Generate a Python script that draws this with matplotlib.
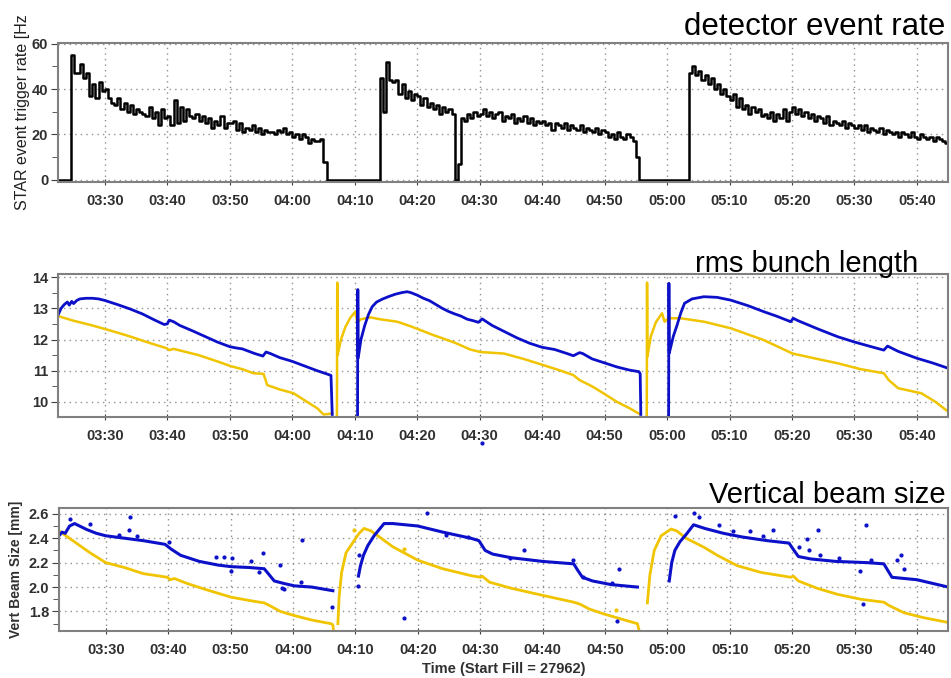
import numpy as np
import matplotlib
matplotlib.use('Agg')
import matplotlib.pyplot as plt

plt.rcParams['font.family'] = ['Liberation Sans', 'DejaVu Sans']

# time axis: minutes after 03:00
tick_pos = [30, 40, 50, 60, 70, 80, 90, 100, 110, 120, 130, 140, 150, 160]
tick_labels = ['03:30', '03:40', '03:50', '04:00', '04:10', '04:20', '04:30',
               '04:40', '04:50', '05:00', '05:10', '05:20', '05:30', '05:40']
t_start = 22.5
t_end = 165

# STAR trigger rate, sampled every 0.5 min from 03:20
rate_t0 = 20
rate_dt = 0.5
rate = [
    0, 0, 0, 0, 0, 0, 0, 0, 0, 55, 47, 47, 51, 45, 47, 37, 42, 36, 43, 39,
    40, 36, 34, 33, 36, 31, 34, 30, 33, 29, 31, 30, 29, 28, 32, 27, 30, 24, 31, 27,
    28, 24, 35, 25, 32, 26, 31, 28, 27, 29, 26, 28, 25, 27, 23, 26, 24, 28, 23, 25,
    25, 26, 22, 25, 21, 23, 22, 24, 21, 23, 20, 22, 21, 21, 20, 22, 21, 23, 20, 21,
    19, 20, 18, 20, 19, 16, 18, 17, 17, 18, 8, 0, 0, 0, 0, 0, 0, 0, 0, 0,
    0, 0, 0, 0, 0, 0, 0, 0, 45, 30, 52, 44, 43, 44, 38, 42, 36, 39, 35, 38,
    37, 33, 36, 32, 34, 31, 33, 29, 32, 30, 31, 29, 0, 7, 27, 26, 29, 27, 30, 28,
    29, 31, 28, 30, 27, 29, 30, 26, 28, 27, 29, 25, 27, 26, 28, 25, 27, 24, 26, 25,
    26, 24, 25, 22, 25, 24, 23, 25, 22, 24, 23, 22, 24, 21, 23, 22, 21, 23, 20, 22,
    21, 19, 20, 18, 21, 19, 18, 20, 19, 17, 10, 0, 0, 0, 0, 0, 0, 0, 0, 0,
    0, 0, 0, 0, 0, 0, 0, 47, 50, 46, 48, 44, 46, 42, 45, 40, 42, 38, 40, 37,
    35, 38, 32, 36, 31, 33, 29, 32, 30, 31, 28, 29, 27, 30, 26, 29, 27, 31, 26, 30,
    32, 29, 31, 28, 30, 27, 29, 26, 28, 27, 25, 28, 24, 26, 25, 24, 26, 23, 25, 24,
    23, 24, 22, 24, 21, 23, 22, 21, 23, 20, 22, 21, 20, 21, 19, 21, 20, 19, 21, 19,
    18, 20, 19, 18, 19, 17, 19, 18, 17, 16, 8,
]

# rms bunch length (ns) - blue ring
bl_blue_t = [22.5, 23, 23.5, 24, 24.3, 24.7, 25, 25.5, 26, 27, 28, 29, 30, 32, 34, 36, 38, 39.5,
             40, 40.3, 41, 42, 44, 46, 48, 50, 51, 52, 54, 55.3, 55.8, 56.5, 58, 60, 62, 64,
             65.5, 66.2, 66.4, None,
             70.45, 70.5, 70.55, 71, 71.6, 72.2, 72.8, 73.5, 74.5, 75.5, 76.5, 77.5, 78.4, 79,
             80, 81, 82, 83, 84, 85, 86, 87, 88, 89, 89.8, 90.4, 91, 92, 94, 96, 98, 100, 102,
             104, 105, 106, 106.5, 108, 110, 112, 114, 115.5, 115.7, 115.8, None,
             120.25, 120.3, 120.35, 121, 121.6, 122.2, 122.8, 124, 125.9, 128, 130.2, 133,
             135.5, 137.5, 139.8, 140.2, 141, 144, 147.3, 150, 152.5, 154.7, 155.3, 157, 160,
             162.5, 165]
bl_blue = [12.78, 13.0, 13.12, 13.2, 13.1, 13.22, 13.15, 13.25, 13.3, 13.32, 13.32, 13.3, 13.25,
           13.12, 12.98, 12.82, 12.62, 12.48, 12.5, 12.62, 12.57, 12.45, 12.28, 12.1, 11.92,
           11.77, 11.73, 11.7, 11.55, 11.47, 11.6, 11.55, 11.42, 11.3, 11.15, 11.0, 10.9,
           10.85, 9.6, None,
           9.4, 13.6, 11.4, 12.0, 12.45, 12.8, 13.05, 13.2, 13.3, 13.38, 13.45, 13.5, 13.53,
           13.5, 13.42, 13.32, 13.24, 13.12, 13.0, 12.9, 12.82, 12.75, 12.65, 12.6, 12.55,
           12.66, 12.58, 12.45, 12.25, 12.05, 11.88, 11.75, 11.68, 11.55, 11.48, 11.58, 11.55,
           11.38, 11.25, 11.12, 11.02, 10.97, 10.9, 9.6, None,
           9.4, 13.8, 11.56, 12.1, 12.46, 12.85, 13.16, 13.3, 13.37, 13.35, 13.26, 13.08,
           12.89, 12.75, 12.57, 12.68, 12.6, 12.35, 12.09, 11.92, 11.78, 11.66, 11.79, 11.62,
           11.4, 11.25, 11.08]

# rms bunch length (ns) - yellow ring
bl_yel_t = [22.5, 25, 28, 31, 34, 37, 39.9, 40.3, 41, 45, 48, 50.1, 52, 53.8, 55.4, 56, 58,
            60.2, 62, 64, 65, 66, 66.4, None,
            67.15, 67.2, 67.25, 67.8, 68.5, 69.3, 70.1, 70.4, 71, 72.5, 74, 76.8, 79, 82.6,
            86, 88.5, 90.1, 93.9, 97, 100.2, 103, 105, 106, 108, 109.8, 112, 114, 115.2,
            115.6, None,
            116.75, 116.8, 116.85, 117.4, 118.2, 119.2, 119.6, 120.2, 122.2, 125.9, 130.2,
            135.5, 140.1, 144, 147.3, 151, 154.7, 155.5, 157, 160.7, 163, 165]
bl_yel = [12.75, 12.6, 12.45, 12.28, 12.1, 11.9, 11.72, 11.66, 11.7, 11.5, 11.3, 11.15, 11.05,
          10.92, 10.9, 10.54, 10.4, 10.28, 10.05, 9.8, 9.6, 9.62, 9.65, None,
          9.4, 13.82, 11.5, 12.0, 12.4, 12.7, 12.89, 12.55, 12.65, 12.71, 12.65, 12.57,
          12.42, 12.14, 11.9, 11.68, 11.6, 11.55, 11.38, 11.18, 11.0, 10.86, 10.7, 10.5,
          10.28, 10.0, 9.8, 9.66, 9.62, None,
          9.4, 13.82, 11.45, 12.1, 12.55, 12.84, 12.57, 12.68, 12.68, 12.57, 12.36, 11.98,
          11.55, 11.38, 11.24, 11.05, 10.92, 10.7, 10.44, 10.28, 10.0, 9.69]

# vertical beam size (mm)
vb_blue_t = [22.5, 23, 23.5, 24.2, 25, 25.8, 27, 28.5, 30, 33, 36, 39.5, 40.5, 42, 45, 48, 50.1,
             53, 55.4, 56.2, 57, 58.5, 60.2, 63, 66.4, None,
             70.5, 70.8, 71.3, 72, 73, 73.8, 74.6, 76, 80, 84, 88.5, 89.8, 90.8, 92, 95, 100,
             105, 105.6, 106.4, 108, 111, 115.2, None,
             120.3, 120.7, 121.2, 122, 123, 124.2, 126, 129, 132, 136, 139.5, 140.3, 141,
             143, 147, 152, 154.7, 155.4, 156, 160, 165]
vb_blue = [2.42, 2.45, 2.44, 2.5, 2.52, 2.5, 2.47, 2.44, 2.42, 2.40, 2.38, 2.35, 2.31, 2.26,
           2.21, 2.18, 2.167, 2.16, 2.15, 2.1, 2.05, 2.03, 2.01, 2.0, 1.97, None,
           2.09, 2.17, 2.26, 2.34, 2.42, 2.47, 2.52, 2.52, 2.50, 2.45, 2.40, 2.38, 2.3, 2.27,
           2.24, 2.21, 2.19, 2.14, 2.08, 2.05, 2.02, 2.0, None,
           2.05, 2.2, 2.3, 2.37, 2.43, 2.51, 2.48, 2.44, 2.41, 2.38, 2.36, 2.3, 2.25,
           2.23, 2.21, 2.2, 2.19, 2.13, 2.08, 2.06, 2.0]

vb_yel_t = [22.5, 25, 27.5, 30, 33, 36, 39.9, 40.3, 41, 43, 46, 50.1, 53, 55.4, 56.2, 58,
            60.2, 63, 66.1, 66.4, 66.5, None,
            67.2, 67.4, 67.8, 68.5, 69.8, 70.6, 71.4, 72.5, 73.6, 76, 80, 84, 88.5, 90.1,
            90.3, 91.5, 95, 100.2, 105, 106, 107.5, 109.8, 112.5, 115.2, 115.5, None,
            116.8, 117.2, 117.9, 119, 120.6, 121.5, 123, 125.9, 128, 131.2, 135, 139.8, 140.2,
            141, 144, 147.3, 151, 154.7, 155.5, 157.9, 161, 165]
vb_yel = [2.46, 2.37, 2.28, 2.20, 2.16, 2.11, 2.08, 2.06, 2.07, 2.03, 1.98, 1.917, 1.89, 1.87,
          1.85, 1.8, 1.767, 1.73, 1.70, 1.69, 1.64, None,
          1.7, 1.92, 2.12, 2.28, 2.38, 2.44, 2.48, 2.46, 2.42, 2.33, 2.22, 2.15, 2.094, 2.08,
          2.09, 2.04, 1.99, 1.93, 1.876, 1.86, 1.82, 1.78, 1.74, 1.70, 1.64, None,
          1.87, 2.1, 2.3, 2.42, 2.475, 2.46, 2.4, 2.325, 2.26, 2.175, 2.12, 2.08, 2.09,
          2.05, 1.99, 1.94, 1.9, 1.876, 1.85, 1.79, 1.75, 1.71]

# stray beam-size readings
out_blue_t = [24.2, 27.5, 32.2, 33.7, 33.9, 35, 40.2, 47.7, 49, 50, 50.2, 53.2, 54.6, 55.2,
              58, 58.2, 58.6, 61.3, 61.4, 66.3, 70.4, 70.6, 77.8, 81.5, 84.5, 88, 94.8, 97,
              104.9, 106.5, 111.2, 112.2, 112, 121.2, 124.2, 125, 128.3, 130.5, 133.2,
              135.4, 137, 141.1, 142.3, 142.7, 144.1, 144.5, 147.5, 150.8, 151.8, 151.3,
              152.6, 156.8, 157.4, 157.9]
out_blue = [2.557, 2.52, 2.43, 2.47, 2.57, 2.42, 2.37, 2.25, 2.25, 2.13, 2.24, 2.21, 2.12,
            2.28, 2.18, 1.99, 1.98, 2.04, 2.385, 1.84, 2.01, 2.26, 1.75, 2.61, 2.43, 2.41,
            2.24, 2.30, 2.22, 2.08, 2.03, 2.15, 1.72, 2.58, 2.61, 2.57, 2.51, 2.46, 2.46,
            2.42, 2.47, 2.33, 2.39, 2.30, 2.47, 2.26, 2.24, 2.13, 2.51, 1.86, 2.22, 2.22,
            2.26, 2.15]
out_yel_t = [69.8, 77.8, 111.7]
out_yel = [2.47, 2.31, 1.81]

BLUE = '#0c10c8'
YEL = '#f0c400'
GRID = dict(color='#909090', linestyle=(0, (1, 3)), linewidth=1.0)


def style_axes(ax, ylim, yticks, minor):
    ax.set_xlim(t_start, t_end)
    ax.set_ylim(*ylim)
    ax.set_xticks(tick_pos)
    ax.set_xticklabels(tick_labels)
    ax.set_yticks(yticks)
    ax.set_yticks(minor, minor=True)
    ax.grid(True, **GRID)
    for s in ax.spines.values():
        s.set_color('#808080')
        s.set_linewidth(1.5)
    ax.tick_params(axis='x', direction='inout', length=5, color='#404040',
                   labelsize=10.5, labelcolor='#303030', pad=6)
    ax.tick_params(axis='y', direction='out', length=5, color='#404040',
                   labelsize=10.5, labelcolor='#303030', pad=2)
    ax.tick_params(axis='y', which='minor', direction='out', length=4, color='#404040')
    for lab in ax.get_xticklabels() + ax.get_yticklabels():
        lab.set_fontweight('bold')


fig = plt.figure(figsize=(9.51, 6.78), dpi=100)

# panel 1: trigger rate
ax1 = fig.add_axes([0.061, 0.7316, 0.936, 0.205])
rate_t = [rate_t0 + rate_dt * i for i in range(len(rate))]
ax1.plot(rate_t, rate, color='black', lw=1.8, drawstyle='steps-post')
style_axes(ax1, (-1.0, 60.3), [0, 20, 40, 60], [10, 30, 50])
ax1.set_ylabel('STAR event trigger rate [Hz', fontsize=11.5, color='#202020', labelpad=3)
ax1.yaxis.set_label_coords(-0.031, 0.5)
fig.text(0.994, 0.948, 'detector event rate', ha='right', va='baseline', fontsize=22.5)

# panel 2: bunch length
ax2 = fig.add_axes([0.061, 0.385, 0.936, 0.211])
ax2.plot(bl_yel_t, bl_yel, color=YEL, lw=1.8)
ax2.plot(bl_blue_t, bl_blue, color=BLUE, lw=2.0)
ax2.plot([90.3], [8.7], 'o', color=BLUE, ms=2, clip_on=False)
style_axes(ax2, (9.52, 14.1), [10, 11, 12, 13, 14], [10.5, 11.5, 12.5, 13.5])
fig.text(0.966, 0.599, 'rms bunch length', ha='right', va='baseline', fontsize=21)

# panel 3: vertical beam size
ax3 = fig.add_axes([0.062, 0.0693, 0.935, 0.181])
ax3.plot(vb_yel_t, vb_yel, color=YEL, lw=2.0)
ax3.plot(vb_blue_t, vb_blue, color=BLUE, lw=2.2)
ax3.plot(out_blue_t, out_blue, 'o', color=BLUE, ms=2)
ax3.plot(out_yel_t, out_yel, 'o', color=YEL, ms=2)
style_axes(ax3, (1.64, 2.645), [1.8, 2.0, 2.2, 2.4, 2.6], [1.7, 1.9, 2.1, 2.3, 2.5])
ax3.set_ylabel('Vert Beam Size [mm]', fontsize=10, fontweight='bold', color='#303030',
               labelpad=4)
ax3.set_xlabel('Time (Start Fill = 27962)', fontsize=10.5, fontweight='bold',
               color='#303030', labelpad=4)
fig.text(0.994, 0.258, 'Vertical beam size', ha='right', va='baseline', fontsize=21)

fig.savefig('out.png', dpi=100)
